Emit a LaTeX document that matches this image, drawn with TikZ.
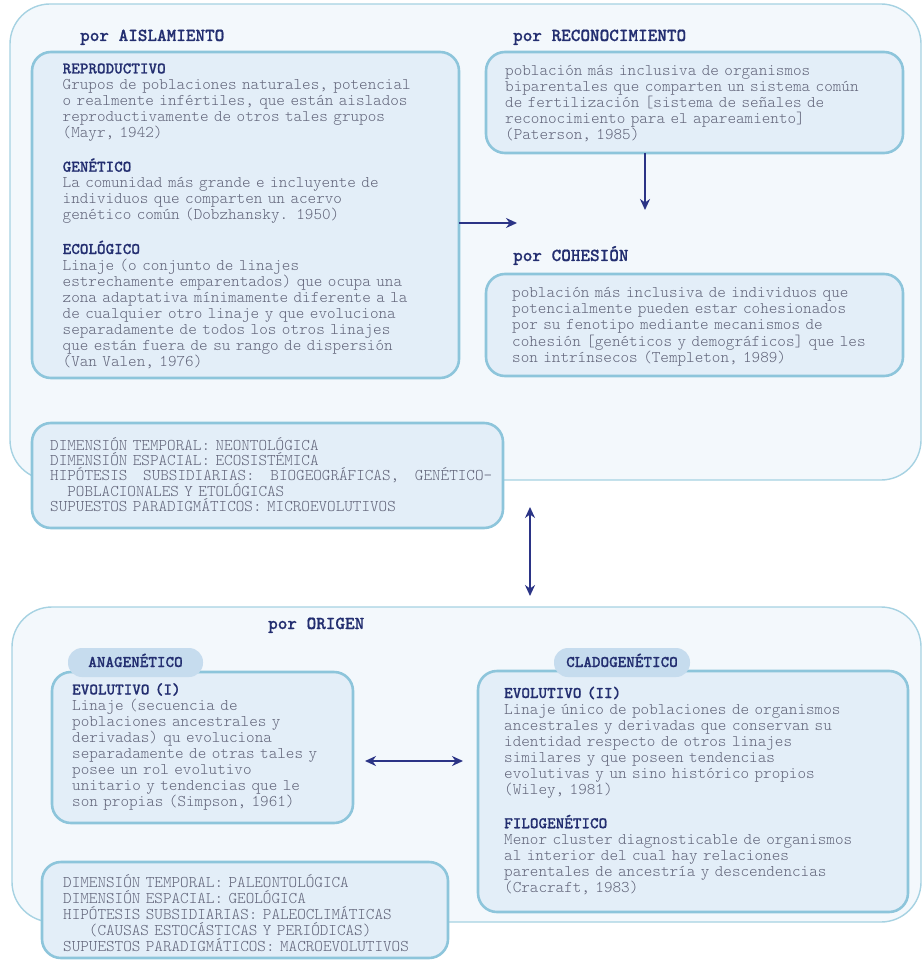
\documentclass[tikz,border=0pt]{standalone}
\usepackage{fontspec}
\setmonofont{lmmonolt10-regular.otf}[BoldFont=lmmonolt10-bold.otf,BoldFeatures={FakeBold=0.7}]
\usetikzlibrary{arrows.meta}
\definecolor{outerfill}{HTML}{F3F8FC}
\definecolor{outerline}{HTML}{A6D2E2}
\definecolor{boxfill}{HTML}{E3EEF8}
\definecolor{boxline}{HTML}{8DC5DB}
\definecolor{tabfill}{HTML}{C6DCEE}
\definecolor{navy}{HTML}{232E70}
\definecolor{bodygray}{HTML}{62657A}
\definecolor{arrowc}{HTML}{2B3486}
\newcommand{\hd}[1]{\textcolor{navy}{\bfseries #1}}
\begin{document}
\begin{tikzpicture}[x=1pt,y=-1pt,
  outer/.style={draw=outerline,fill=outerfill,line width=1.4pt,rounded corners=40pt,inner sep=0pt,outer sep=0pt,anchor=north west},
  box/.style={draw=boxline,fill=boxfill,line width=2.6pt,rounded corners=19pt,inner sep=0pt,outer sep=0pt,anchor=north west},
  tab/.style={fill=tabfill,rounded corners=14pt,inner sep=0pt,outer sep=0pt,anchor=north west},
  head/.style={anchor=base west,inner sep=0pt,text=navy,font=\ttfamily\bfseries\fontsize{18.3}{20}\selectfont},
  tabtext/.style={anchor=base,inner sep=0pt,text=navy,font=\ttfamily\bfseries\fontsize{16.35}{16}\selectfont},
  body/.style={anchor=base west,inner sep=0pt,text=bodygray,align=left,text width=440pt,font=\ttfamily\fontsize{16.35}{16}\selectfont},
  dim/.style={body,font=\ttfamily\fontsize{16.35}{15}\selectfont},
  arr/.style={draw=arrowc,line width=2pt,-{Stealth[length=11pt,width=10pt]}},
  darr/.style={draw=arrowc,line width=2pt,{Stealth[length=11pt,width=10pt]}-{Stealth[length=11pt,width=10pt]}}
]
\useasboundingbox (0,0) rectangle (922,965);
\fill[white] (0,0) rectangle (922,965);

% ---------- top container ----------
\node[outer,minimum width=911pt,minimum height=476pt] (outerTop) at (10,4) {};

\node[head] (hAis) at (80,41) {por AISLAMIENTO};
\node[box,minimum width=427pt,minimum height=326pt] (boxA) at (32,52) {};
\node[body] (txtA) at (62.5,73.5) {\hd{REPRODUCTIVO}\\
Grupos de poblaciones naturales, potencial\\
o realmente infértiles, que están aislados\\
reproductivamente de otros tales grupos\\
(Mayr, 1942)\\[16pt]
\hd{GENÉTICO}\\
La comunidad más grande e incluyente de\\
individuos que comparten un acervo\\
genético común (Dobzhansky. 1950)\\[16pt]
\hd{ECOLÓGICO}\\
Linaje (o conjunto de linajes\\
estrechamente emparentados) que ocupa una\\
zona adaptativa mínimamente diferente a la\\
de cualquier otro linaje y que evoluciona\\
separadamente de todos los otros linajes\\
que están fuera de su rango de dispersión\\
(Van Valen, 1976)};

\node[head] (hRec) at (513,41) {por RECONOCIMIENTO};
\node[box,minimum width=417pt,minimum height=101pt] (boxR) at (486,52) {};
\node[body] (txtR) at (505,76) {población más inclusiva de organismos\\
biparentales que comparten un sistema común\\
de fertilización [sistema de señales de\\
reconocimiento para el apareamiento]\\
(Paterson, 1985)};

\node[head] (hCoh) at (513,261) {por COHESIÓN};
\node[box,minimum width=417pt,minimum height=102pt] (boxC) at (486,274) {};
\node[body] (txtC) at (512,298) {población más inclusiva de individuos que\\
potencialmente pueden estar cohesionados\\
por su fenotipo mediante mecanismos de\\
cohesión [genéticos y demográficos] que les\\
son intrínsecos (Templeton, 1989)};

\node[box,minimum width=471pt,minimum height=105pt] (dimTop) at (32,423) {};
\node[dim] (txtDimTop) at (50,450.5) {DIMENSIÓN TEMPORAL: NEONTOLÓGICA\\
DIMENSIÓN ESPACIAL: ECOSISTÉMICA\\
\makebox[442pt][s]{HIPÓTESIS\hfil\ SUBSIDIARIAS:\hfil\ BIOGEOGRÁFICAS,\hfil\ GENÉTICO-}\\
\phantom{XX}POBLACIONALES Y ETOLÓGICAS\\
SUPUESTOS PARADIGMÁTICOS: MICROEVOLUTIVOS};

\coordinate (endA) at (517,223);
\coordinate (endR) at (645,210);
\draw[arr] (boxA.east |- endA) -- (endA);
\draw[arr] (boxR.south -| endR) -- (endR);

% ---------- bottom container ----------
\node[outer,minimum width=909pt,minimum height=315pt] (outerBot) at (12,607) {};

\coordinate (vTop) at (530,507);
\coordinate (vBot) at (530,596);
\draw[darr] (vTop) -- (vBot);

\node[head] (hOri) at (268,629) {por ORIGEN};

\node[box,minimum width=301pt,minimum height=151pt] (boxAna) at (52,672) {};
\node[tab,minimum width=135pt,minimum height=29pt] (tabAna) at (68,648) {};
\node[tabtext] (tAna) at (tabAna.center |- 0,667) {ANAGENÉTICO};
\node[body] (txtAna) at (72,694.5) {\hd{EVOLUTIVO (I)}\\
Linaje (secuencia de\\
poblaciones ancestrales y\\
derivadas) qu evoluciona\\
separadamente de otras tales y\\
posee un rol evolutivo\\
unitario y tendencias que le\\
son propias (Simpson, 1961)};

\node[box,minimum width=430pt,minimum height=241pt] (boxCla) at (478,671) {};
\node[tab,minimum width=136pt,minimum height=29pt] (tabCla) at (554,648) {};
\node[tabtext] (tCla) at (tabCla.center |- 0,667) {CLADOGENÉTICO};
\node[body] (txtCla) at (504,698) {\hd{EVOLUTIVO (II)}\\
Linaje único de poblaciones de organismos\\
ancestrales y derivadas que conservan su\\
identidad respecto de otros linajes\\
similares y que poseen tendencias\\
evolutivas y un sino histórico propios\\
(Wiley, 1981)\\[16pt]
\hd{FILOGENÉTICO}\\
Menor cluster diagnosticable de organismos\\
al interior del cual hay relaciones\\
parentales de ancestría y descendencias\\
(Cracraft, 1983)};

\coordinate (hL) at (365,761);
\coordinate (hR) at (463,761);
\draw[darr] (hL) -- (hR);

\node[box,minimum width=406pt,minimum height=96pt] (dimBot) at (42,862) {};
\node[body] (txtDimBot) at (63,887.5) {DIMENSIÓN TEMPORAL: PALEONTOLÓGICA\\
DIMENSIÓN ESPACIAL: GEOLÓGICA\\
HIPÓTESIS SUBSIDIARIAS: PALEOCLIMÁTICAS\\
\phantom{XXX}(CAUSAS ESTOCÁSTICAS Y PERIÓDICAS)\\
SUPUESTOS PARADIGMÁTICOS: MACROEVOLUTIVOS};
\end{tikzpicture}
\end{document}
